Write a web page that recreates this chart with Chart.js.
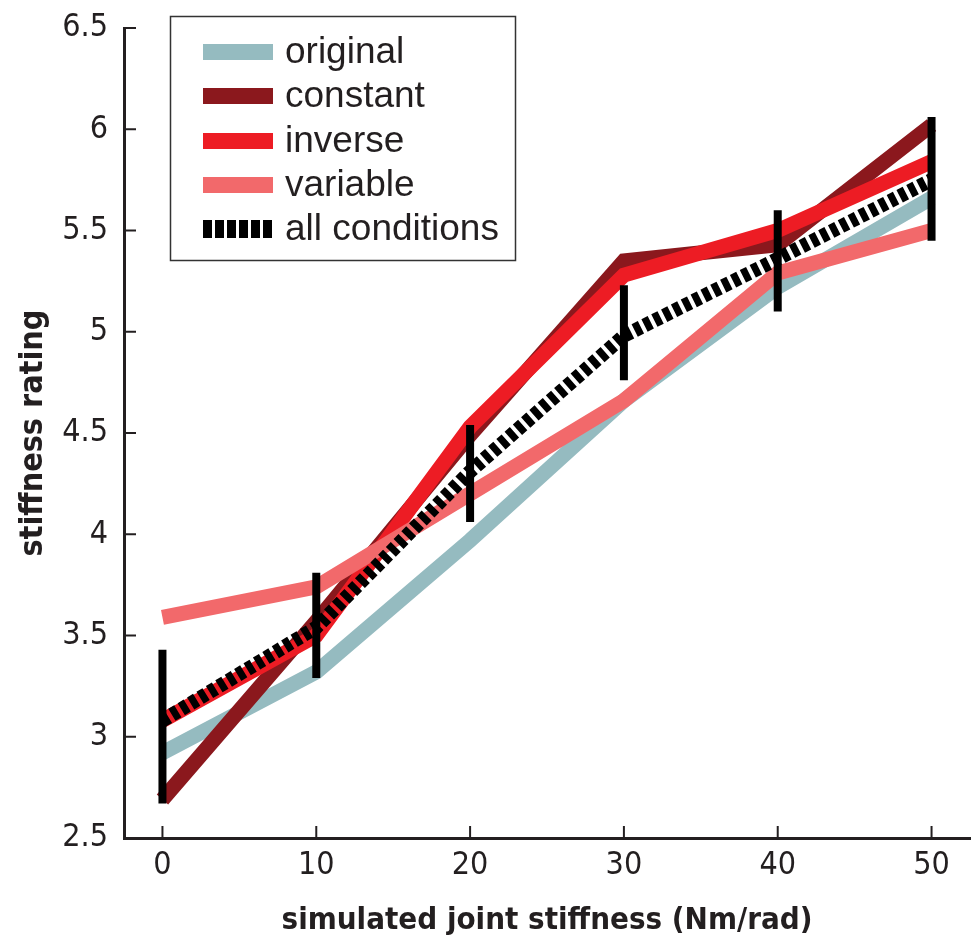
<!DOCTYPE html>
<html>
<head>
<meta charset="utf-8">
<script src="https://cdn.jsdelivr.net/npm/chart.js@4.4.0/dist/chart.umd.min.js"></script>
<style>
  html, body { margin: 0; padding: 0; background: #fff; }
  #wrap { width: 972px; height: 943px; }
</style>
</head>
<body>
<div id="wrap"><canvas id="myChart" width="972" height="943"></canvas></div>
<script>
// values
const stiffness = [0, 10, 20, 30, 40, 50];
const xTicks = [0, 10, 20, 30, 40, 50];
const yTicks = [2.5, 3, 3.5, 4, 4.5, 5, 5.5, 6, 6.5];
const original = [2.92, 3.32, 3.97, 4.66, 5.22, 5.66];
const constant = [2.69, 3.57, 4.49, 5.35, 5.43, 6.02];
const inverse  = [3.08, 3.50, 4.53, 5.28, 5.50, 5.84];
const variable = [3.59, 3.74, 4.20, 4.66, 5.29, 5.50];
const allConditions = [3.08, 3.54, 4.31, 4.98, 5.36, 5.75];
const errLow  = [2.67, 3.29, 4.06, 4.76, 5.10, 5.45];
const errHigh = [3.43, 3.81, 4.54, 5.23, 5.60, 6.06];
const seriesNames = ["original", "constant", "inverse", "variable", "all conditions"];

const narrow = "'Liberation Sans Narrow', 'DejaVu Sans Condensed', Arial, sans-serif";

function pts(vals) {
  return stiffness.map((x, i) => ({x: x, y: vals[i]}));
}

function lineSet(label, vals, color, order, dash) {
  return {
    label: label,
    data: pts(vals),
    borderColor: color,
    backgroundColor: color,
    borderWidth: dash ? 14 : 15,
    borderDash: dash || [],
    borderCapStyle: 'butt',
    borderJoinStyle: 'miter',
    pointRadius: 0,
    fill: false,
    tension: 0,
    order: order
  };
}

// inward tick marks + error bars + legend box
const extrasPlugin = {
  id: 'extras',
  beforeDatasetsDraw(chart) {
    const ctx = chart.ctx;
    const xs = chart.scales.x, ys = chart.scales.y;
    const area = chart.chartArea;
    ctx.save();
    ctx.strokeStyle = '#231f20';
    ctx.lineWidth = 2;
    xTicks.forEach(v => {
      const px = xs.getPixelForValue(v);
      ctx.beginPath();
      ctx.moveTo(px, area.bottom);
      ctx.lineTo(px, area.bottom - 12);
      ctx.stroke();
    });
    yTicks.forEach(v => {
      const py = ys.getPixelForValue(v);
      ctx.beginPath();
      ctx.moveTo(area.left, py);
      ctx.lineTo(area.left + 12, py);
      ctx.stroke();
    });
    ctx.restore();
  },
  afterDatasetsDraw(chart) {
    const ctx = chart.ctx;
    const xs = chart.scales.x, ys = chart.scales.y;
    ctx.save();
    ctx.strokeStyle = '#000';
    ctx.lineWidth = 8;
    ctx.lineCap = 'butt';
    stiffness.forEach((x, i) => {
      const px = xs.getPixelForValue(x);
      ctx.beginPath();
      ctx.moveTo(px, ys.getPixelForValue(errLow[i]));
      ctx.lineTo(px, ys.getPixelForValue(errHigh[i]));
      ctx.stroke();
    });
    ctx.restore();
  },
  afterDraw(chart) {
    const ctx = chart.ctx;
    ctx.save();
    ctx.fillStyle = '#fff';
    ctx.fillRect(170, 16, 345, 244);
    ctx.strokeStyle = '#333';
    ctx.lineWidth = 1.5;
    ctx.strokeRect(170.5, 16.5, 345, 244);
    const rowY = [52, 96, 141, 185, 229];
    seriesNames.forEach((name, i) => {
      const ds = chart.data.datasets.find(d => d.label === name);
      ctx.beginPath();
      ctx.strokeStyle = ds.borderColor;
      const isDash = ds.borderDash.length > 0;
      ctx.lineWidth = isDash ? 18 : 16;
      ctx.setLineDash(isDash ? [9, 3] : []);
      ctx.lineCap = 'butt';
      ctx.moveTo(203, rowY[i]);
      ctx.lineTo(273, rowY[i]);
      ctx.stroke();
      ctx.setLineDash([]);
      ctx.fillStyle = '#231f20';
      ctx.font = "37px 'Liberation Sans', Arial, sans-serif";
      ctx.textBaseline = 'middle';
      ctx.textAlign = 'left';
      ctx.fillText(name, 285, rowY[i] + 1);
    });
    ctx.restore();
  }
};

new Chart(document.getElementById('myChart'), {
  type: 'line',
  data: {
    datasets: [
      lineSet("all conditions", allConditions, '#000000', 0, [7, 4]),
      lineSet("variable", variable, '#f2696b', 1),
      lineSet("inverse", inverse, '#ed1c24', 2),
      lineSet("constant", constant, '#8b181d', 3),
      lineSet("original", original, '#95bbc0', 4)
    ]
  },
  options: {
    responsive: false,
    animation: false,
    layout: { padding: { top: 28, right: 2, left: 0, bottom: 0 } },
    plugins: { legend: { display: false }, tooltip: { enabled: false } },
    scales: {
      x: {
        type: 'linear',
        min: -2.5,
        max: 52.5,
        afterBuildTicks: s => { s.ticks = xTicks.map(v => ({value: v})); },
        afterFit: s => { s.height = 105; s.paddingLeft = 0; s.paddingRight = 0; },
        grid: { drawOnChartArea: false, drawTicks: false },
        border: { display: true, color: '#231f20', width: 3 },
        ticks: { color: '#231f20', padding: 8, font: { family: narrow, size: 32 }, callback: v => String(v) },
        title: {
          display: true,
          text: 'simulated joint stiffness (Nm/rad)',
          color: '#231f20',
          font: { family: narrow, size: 31, weight: 'bold' },
          padding: { top: 0, bottom: 3 }
        }
      },
      y: {
        type: 'linear',
        min: 2.5,
        max: 6.5,
        afterBuildTicks: s => { s.ticks = yTicks.map(v => ({value: v})); },
        afterFit: s => { s.width = 124; s.paddingTop = 0; s.paddingBottom = 0; },
        grid: { drawOnChartArea: false, drawTicks: false },
        border: { display: true, color: '#231f20', width: 3 },
        ticks: { color: '#231f20', padding: 16, font: { family: narrow, size: 32 }, callback: v => String(v) },
        title: {
          display: true,
          text: 'stiffness rating',
          color: '#231f20',
          font: { family: narrow, size: 32, weight: 'bold' },
          padding: { top: 14, bottom: 0 }
        }
      }
    }
  },
  plugins: [extrasPlugin]
});
</script>
</body>
</html>
